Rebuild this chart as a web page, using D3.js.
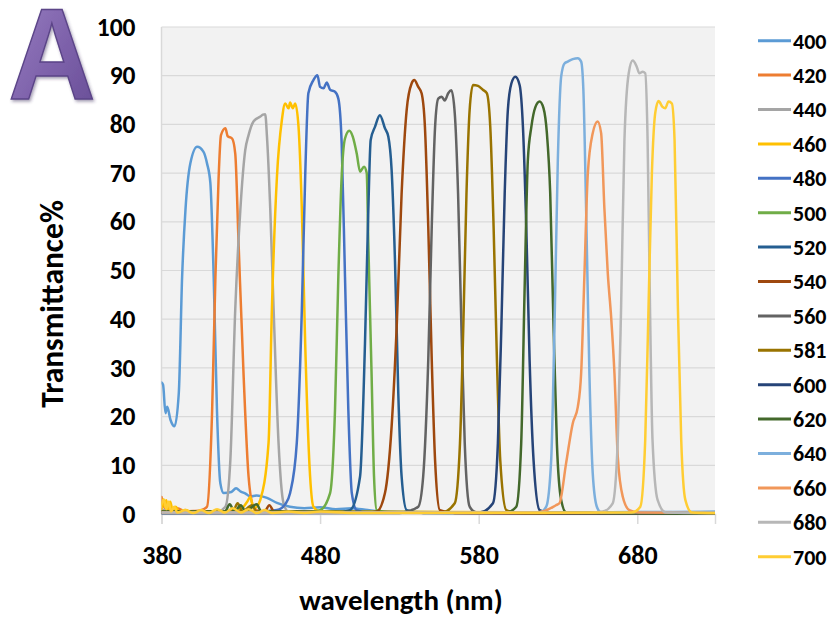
<!DOCTYPE html>
<html><head><meta charset="utf-8">
<script src="https://cdn.jsdelivr.net/npm/d3@7"></script>
<style>
html,body{margin:0;padding:0;background:#fff;}
svg{display:block;}
text{font-family:Carlito,Lato,"Open Sans",sans-serif;font-weight:700;fill:#000;}
</style></head><body>
<svg id="chart" width="831" height="617"></svg>
<script>
// ---- data ----
const seriesNames = ["400","420","440","460","480","500","520","540","560","581","600","620","640","660","680","700"];
const seriesColors = ["#5B9BD5","#ED7D31","#A5A5A5","#FFC000","#4472C4","#70AD47","#255E91","#9E480E","#636363","#997300","#264478","#43682B","#7CAFDD","#F1975A","#B7B7B7","#FFCD33"];
const xTicks = [380,480,580,680];
const yTicks = [0,10,20,30,40,50,60,70,80,90,100];

const s400 = [[380,27],[381,26.5],[382.5,20.7],[383.6,22],[385.7,19.3],[388.2,18],[390.9,24.8],[393,48.7],[395.1,62.4],[398.2,72],[402.5,75.4],[406.4,74.4],[408.7,72],[410.8,68],[412.9,48.7],[415,21],[417.1,6.3],[419.2,4.3],[424,4.5],[427,5.3],[430,4.6],[433,4.2],[436,3.6],[440,3.8],[446.5,3.3],[452.8,2.3],[461,1.5],[470,1.2],[480,1.4],[490,1],[500,1.2],[510,0.8],[520,0.5],[560,0.3],[620,0.2],[680,0.4],[729,0.3]];
const s420 = [[380,3.5],[381,2],[383,1],[386,0.8],[390,1.2],[395,0.5],[400,0.6],[405,0.8],[408.7,1.5],[411.9,21],[414,48.7],[416,69],[417.5,77.8],[420.3,79.2],[421.7,77.6],[424.5,77.1],[426.5,74],[428.6,55.6],[431.8,28.2],[434.9,7.7],[438,1.5],[442,0.5],[450,0.3],[729,0.1]];
const s440 = [[380,1],[385,0.5],[400,0.5],[415,0.5],[420.3,1.5],[423.4,11],[426.5,42],[429.7,62.4],[432.8,74.7],[434.9,77.8],[438,80.6],[442.3,81.6],[444,82],[445.4,82.1],[446.5,77.5],[448.6,62.4],[450.7,42],[453.8,14.6],[456.9,2.3],[460,0.5],[729,0.1]];
const s460 = [[380,1],[381,3],[382,1.5],[383,2.8],[384,1],[385.5,2.5],[387,0.8],[389,1.5],[391,0.5],[395,0.8],[400,0.3],[410,0.5],[420,0.5],[430,1],[434,2.5],[436,3.5],[438,1.2],[440,1.5],[442.3,2.9],[447.5,14.6],[449.6,42],[452.8,69.3],[455.9,80.9],[458,84.3],[460.1,83.3],[461.1,84.5],[462.8,83.3],[464.3,84.3],[466.4,79.5],[468.5,62.4],[470.6,35],[473.7,7.7],[475.8,1.5],[480,0.5],[729,0.3]];
const s480 = [[380,0.3],[400,0.3],[440,0.5],[452.8,0.8],[458,2],[461.1,4.3],[465.3,14.6],[468.5,42],[470.6,69.3],[472.6,86.4],[475.8,89.1],[478.3,90.1],[480,87.7],[482.1,87.4],[484.2,88.6],[486.3,87.1],[489.4,86.7],[491.5,85.3],[493.6,76.1],[495.7,48.7],[497.8,21.4],[500,4.3],[503,0.8],[510,0.3],[729,0.2]];
const s500 = [[380,0.3],[470,0.3],[480,0.8],[486.3,4.3],[489.4,21.4],[491.5,48.7],[493.6,69.3],[495.7,77.1],[498.4,78.7],[500.6,77.5],[503.1,74],[505.2,70.3],[507.7,71.3],[509.4,70],[510.4,55.6],[512.5,28.2],[514,7.7],[515.7,0.8],[525,0.3],[729,0.2]];
const s520 = [[380,0.2],[490,0.3],[498.9,0.8],[505.2,7.7],[508.3,35],[510.4,62.4],[511.9,76.8],[514.6,79.5],[517.7,81.9],[520.9,79.2],[523,77.5],[525.1,70.6],[527.2,52.2],[529.3,24.8],[531.4,7.7],[534.6,0.8],[545,0.2],[729,0.1]];
const s540 = [[380,0.3],[445,0.5],[448,1.8],[451,0.5],[510,0.3],[515.7,0.5],[520.9,4.3],[525.1,18],[528.3,38.5],[531.4,65.8],[534.6,83],[537.7,88.4],[539.4,89.1],[541.9,87.7],[544,86.4],[546.1,79.5],[548.2,59],[550.4,31.6],[552.5,11],[555.5,0.8],[565,0.2],[729,0.1]];
const s560 = [[380,0.2],[530,0.2],[534.6,0.5],[541.9,1.5],[545,7.7],[548.2,31.6],[550.4,59],[552.5,79.5],[554.5,85.3],[556.7,85.7],[558.6,84.9],[560.8,86.4],[562.8,87],[564.9,82.3],[567,65.8],[569.1,38.5],[571.2,14.5],[574.3,1.5],[578.6,0.3],[729,0.1]];
const s581 = [[380,0.5],[425,0.5],[428,2.2],[431,0.5],[437,1.8],[440,0.5],[556.7,0.3],[564.9,2.2],[568.2,14.5],[570.3,38.5],[572.3,65.8],[574.3,83],[576.4,88.1],[579.6,87.9],[582.6,87.1],[585.1,86.4],[587.3,79.5],[589.4,59],[591.5,31.6],[593.6,11],[597.4,0.8],[605,0.2],[729,0.1]];
const s600 = [[380,0.2],[580.6,0.3],[589,2.2],[592.1,14.5],[594.3,38.5],[596.4,65.8],[598.4,83],[600.6,88.4],[603.1,89.8],[605.8,88.1],[607.9,79.5],[610,59],[612.1,31.6],[614.6,11],[618.4,0.8],[625,0.2],[729,0.1]];
const s620 = [[380,0.5],[420,0.5],[423,2],[426,0.5],[430,1.8],[433,0.5],[440,2],[443,0.5],[597.4,0.3],[603.7,1.5],[606.8,14.5],[608.9,45.3],[611,72.7],[613.2,79.5],[615.8,83.6],[618.4,84.7],[620.9,83.3],[623,78.2],[625.1,65.8],[627.2,38.5],[629.3,14.5],[632,2.9],[635.2,0.3],[729,0.1]];
const s640 = [[380,0.3],[618.4,0.3],[622.6,1.5],[625.7,11],[627.8,38.5],[629.9,72.7],[632,89.8],[634.1,92.5],[636.2,92.9],[639.3,93.4],[642.5,93.6],[644.6,92.9],[646,87.1],[647.7,63.1],[649.8,28.9],[651.9,8.4],[654.5,1.5],[657.2,0.3],[729,0.5]];
const s660 = [[380,0.3],[615,0.3],[620.3,0.5],[628.7,1.8],[630.9,2.2],[635.1,10.4],[639.3,18.6],[642.5,22],[644.6,28.9],[646.7,49.4],[648.8,69.9],[651.9,78.2],[655,80.6],[657.2,78.2],[659.2,63.1],[661.4,49.4],[663.5,40.5],[665.6,28.9],[667.7,11.8],[670.8,3.6],[675,0.8],[681.3,0.3],[729,0.2]];
const s680 = [[380,0.3],[650,0.3],[658.2,0.5],[664.5,2.2],[667.7,15.2],[669.8,42.6],[671.9,76.8],[674.6,90.5],[677.1,93.1],[679.6,91.9],[681.3,90.5],[683.4,90.8],[685,90.5],[686.5,76.8],[688,42.6],[689.6,15.2],[692.8,2.9],[698,0.3],[729,0.2]];
const s700 = [[380,2],[381.5,3],[383,1],[384.5,2.5],[386,0.5],[388,1.5],[390,0.3],[395,0.8],[400,0.2],[405,0.8],[410,0.2],[415,1],[420,0.3],[425,1.2],[430,0.3],[435,1],[440,0.2],[445,0.8],[450,0.2],[460,0.5],[470,0.2],[480,0.5],[500,0.2],[676.6,0.3],[681.9,1.5],[685,15.2],[687.1,42.6],[689.2,69.9],[691.3,82.3],[693.4,84.8],[695.9,83.6],[697.6,83.3],[699.7,84.7],[701.8,84.3],[703.5,76.8],[705.6,42.6],[707.7,15.2],[710.3,2.9],[714.4,0.3],[729,0.2]];

const seriesData = [s400,s420,s440,s460,s480,s500,s520,s540,s560,s581,s600,s620,s640,s660,s680,s700];

// ---- layout ----
const svg = d3.select("#chart");
const plot = {left:161.5, right:715, top:27, bottom:514};
const x = d3.scaleLinear().domain([380,729]).range([plot.left, plot.right]);
const y = d3.scaleLinear().domain([0,100]).range([plot.bottom, plot.top]);

// defs
const defs = svg.append("defs");
defs.append("clipPath").attr("id","clip").append("rect")
  .attr("x",plot.left).attr("y",plot.top-3).attr("width",plot.right-plot.left).attr("height",plot.bottom-plot.top+4);
const g1 = defs.append("linearGradient").attr("id","agrad").attr("x1","0").attr("y1","0").attr("x2","1").attr("y2","1");
g1.append("stop").attr("offset","0%").attr("stop-color","#9b82c4");
g1.append("stop").attr("offset","55%").attr("stop-color","#7d61aa");
g1.append("stop").attr("offset","100%").attr("stop-color","#654b94");
const f = defs.append("filter").attr("id","ashadow").attr("x","-10%").attr("y","-5%").attr("width","130%").attr("height","120%");
f.append("feDropShadow").attr("dx",1.5).attr("dy",2).attr("stdDeviation",1.5).attr("flood-color","#3a2a5a").attr("flood-opacity",0.45);

// plot background
svg.append("rect").attr("x",plot.left).attr("y",plot.top)
  .attr("width",plot.right-plot.left).attr("height",plot.bottom-plot.top).attr("fill","#f2f2f2");

// gridlines
svg.append("g").selectAll("line").data(yTicks.filter(d=>d>0)).join("line")
  .attr("x1",plot.left).attr("x2",plot.right)
  .attr("y1",d=>y(d)).attr("y2",d=>y(d))
  .attr("stroke","#d9d9d9").attr("stroke-width",1.2);

// left border
svg.append("line").attr("x1",plot.left).attr("x2",plot.left).attr("y1",plot.top).attr("y2",plot.bottom)
  .attr("stroke","#d9d9d9").attr("stroke-width",1.5);

// x axis
const xAxis = d3.axisBottom(x).tickValues(xTicks).tickSize(10).tickPadding(17).tickFormat(d3.format("d"));
const xg = svg.append("g").attr("transform",`translate(0,${plot.bottom})`).call(xAxis);
xg.select(".domain").attr("stroke","#d9d9d9").attr("stroke-width",1.5);
xg.selectAll(".tick line").attr("stroke","#d9d9d9").attr("stroke-width",1.5);
xg.selectAll(".tick text").attr("font-size",26).attr("font-family","Carlito,Lato,sans-serif").attr("font-weight",700).attr("fill","#000").attr("dy","0.9em");

// y axis labels
const yAxis = d3.axisLeft(y).tickValues(yTicks).tickSize(0).tickPadding(26);
const yg = svg.append("g").attr("transform",`translate(${plot.left},0)`).call(yAxis);
yg.select(".domain").remove();
yg.selectAll(".tick text").attr("font-size",25.5).attr("font-family","Carlito,Lato,sans-serif").attr("font-weight",700).attr("fill","#000");

// lines
const line = d3.line().x(d=>x(d[0])).y(d=>y(d[1])).curve(d3.curveMonotoneX);
svg.append("g").attr("clip-path","url(#clip)").selectAll("path").data(seriesData).join("path")
  .attr("d",line).attr("fill","none")
  .attr("stroke",(d,i)=>seriesColors[i]).attr("stroke-width",2.5)
  .attr("stroke-linejoin","round").attr("stroke-linecap","round");

// axis titles
svg.append("text").attr("x",401).attr("y",610).attr("text-anchor","middle")
  .attr("font-size",29).text("wavelength (nm)");
svg.append("text").attr("transform","translate(63,304) rotate(-90)").attr("text-anchor","middle")
  .attr("font-size",31.5).text("Transmittance%");

// legend
const leg = svg.append("g").selectAll("g").data(seriesNames).join("g")
  .attr("transform",(d,i)=>`translate(0,${40.7+i*34.4})`);
leg.append("line").attr("x1",758).attr("x2",791).attr("y1",0).attr("y2",0)
  .attr("stroke",(d,i)=>seriesColors[i]).attr("stroke-width",3);
leg.append("text").attr("x",793).attr("y",0).attr("dy","0.36em").attr("font-size",22).text(d=>d);

// big letter A
svg.append("text").attr("x",52).attr("y",99).attr("text-anchor","middle")
  .attr("transform","translate(52,0) scale(0.93,1) translate(-52,0)")
  .style("font-family","'Liberation Sans',Arial,sans-serif").style("font-weight","700")
  .attr("font-size",130).style("fill","url(#agrad)")
  .attr("stroke","#5b4488").attr("stroke-width",1.5).attr("filter","url(#ashadow)")
  .text("A");
</script>
</body></html>
